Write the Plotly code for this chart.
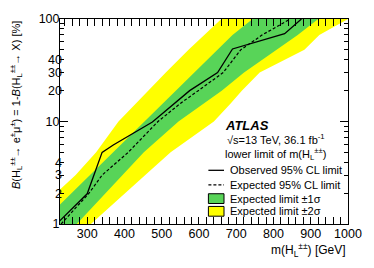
import plotly.graph_objects as go

# ---------------- data ----------------
br_levels = [1, 2, 3, 5, 10, 15, 20, 30, 50, 70, 100]          # B [%]
m_exp = [230, 305, 340, 410, 490, 550, 598, 665, 712, 770, 845]  # expected limit [GeV]
m_m1 = [174, 258, 307, 369, 453, 502, 536, 586, 649, 690, 744]   # expected -1 sigma
m_p1 = [272, 349, 395, 452, 545, 614, 661, 721, 809, 865, 920]   # expected +1 sigma
m_m2 = [135, 216, 269, 324, 384, 430, 463, 511, 572, 614, 660]   # expected -2 sigma
m_p2 = [310, 402, 456, 524, 640, 685, 715, 763, 883, 923, 1000]  # expected +2 sigma

br_obs = [1.0, 1.08, 1.97, 5.0, 5.9, 9.9, 20, 30, 51, 65, 72, 100]
m_obs = [218, 227, 300, 340, 370, 475, 575, 650, 690, 785, 830, 875]

x_ticks = [300, 400, 500, 600, 700, 800, 900, 1000]
y_major = [1, 10, 100]
y_minor = [2, 3, 4, 5, 6, 7, 8, 9, 20, 30, 40, 50, 60, 70, 80, 90]
y_extra_labels = [2, 3, 4, 20, 30, 40]

legend_labels = ["Observed 95% CL limit", "Expected 95% CL limit",
                 "Expected limit ±1σ", "Expected limit ±2σ"]

GREEN = "rgb(88,212,88)"
YELLOW = "rgb(255,255,0)"
FONT = "Liberation Sans, Arial, Helvetica, sans-serif"

fig = go.Figure()
fig.add_trace(go.Scatter(x=m_m2 + m_p2[::-1], y=br_levels + br_levels[::-1],
                         fill="toself", fillcolor=YELLOW, line=dict(width=0),
                         mode="lines", hoverinfo="skip", showlegend=False))
fig.add_trace(go.Scatter(x=m_m1 + m_p1[::-1], y=br_levels + br_levels[::-1],
                         fill="toself", fillcolor=GREEN, line=dict(width=0),
                         mode="lines", hoverinfo="skip", showlegend=False))
fig.add_trace(go.Scatter(x=m_exp, y=br_levels, mode="lines",
                         line=dict(color="black", width=1.2, dash="3px,2px"),
                         showlegend=False))
fig.add_trace(go.Scatter(x=m_obs, y=br_obs, mode="lines",
                         line=dict(color="black", width=1.3), showlegend=False))

# plot area in pixels
W, H = 374, 268
L, R, T, B = 60, 19, 14, 44
pw, ph = W - L - R, H - T - B

def px(x):
    return (x - L) / pw

def py(y):
    return (H - B - y) / ph

fig.update_layout(
    width=W, height=H,
    margin=dict(l=L, r=R, t=T, b=B),
    paper_bgcolor="white", plot_bgcolor="white",
    font=dict(family=FONT, size=12, color="black"),
    showlegend=False,
    xaxis=dict(range=[227, 1000], tickvals=x_ticks, ticks="inside", ticklen=7,
               tickcolor="black", showline=True, linecolor="black", linewidth=1,
               mirror="allticks", showgrid=False, zeroline=False,
               tickfont=dict(size=12.5), ticklabelstandoff=-2,
               minor=dict(dtick=20, tick0=0, ticks="inside", ticklen=3.5,
                          tickcolor="black", showgrid=False)),
    yaxis=dict(type="log", range=[0, 2], tickvals=y_major,
               ticktext=[str(v) for v in y_major],
               ticks="inside", ticklen=8, tickcolor="black",
               showline=True, linecolor="black", linewidth=1, mirror="allticks",
               showgrid=False, zeroline=False, tickfont=dict(size=12.5),
               ticklabelstandoff=-3,
               minor=dict(tickmode="array", tickvals=y_minor, ticks="inside",
                          ticklen=4, tickcolor="black", showgrid=False)),
    yaxis2=dict(type="log", range=[0, 2], overlaying="y", side="left",
                anchor="x", tickvals=y_extra_labels,
                ticktext=[str(v) for v in y_extra_labels], ticks="",
                showline=False, showgrid=False, zeroline=False,
                tickfont=dict(size=12.5), ticklabelstandoff=-3),
)
fig.add_trace(go.Scatter(x=[None], y=[None], yaxis="y2", showlegend=False,
                         hoverinfo="skip"))

ann = []
ann.append(dict(x=px(15), y=1.0, xref="paper", yref="paper", textangle=-90,
                xanchor="center", yanchor="top", showarrow=False,
                text="<i>B</i>(H<sub>L</sub><sup>±±</sup>→ e<sup>±</sup>μ<sup>±</sup>) = 1-<i>B</i>(H<sub>L</sub><sup>±±</sup>→ X) [%]",
                font=dict(size=11)))
ann.append(dict(x=1.0, y=py(251), xref="paper", yref="paper", xanchor="right",
                yanchor="middle", showarrow=False,
                text="m(H<sub>L</sub><sup>±±</sup>) [GeV]", font=dict(size=12)))
ann.append(dict(x=px(227), y=py(123), xref="paper", yref="paper", xanchor="left",
                yanchor="middle", showarrow=False,
                text="<b><i>ATLAS</i></b>", font=dict(size=13)))
ann.append(dict(x=px(229), y=py(137), xref="paper", yref="paper", xanchor="left",
                yanchor="middle", showarrow=False,
                text="√s=13 TeV, 36.1 fb<sup>-1</sup>", font=dict(size=11)))
ann.append(dict(x=px(227), y=py(152), xref="paper", yref="paper", xanchor="left",
                yanchor="middle", showarrow=False,
                text="lower limit of m(H<sub>L</sub><sup>±±</sup>)", font=dict(size=11)))

rows = [169, 184, 198, 211]
shapes = []
for i, (lab, yy) in enumerate(zip(legend_labels, rows)):
    ann.append(dict(x=px(232), y=py(yy), xref="paper", yref="paper",
                    xanchor="left", yanchor="middle", showarrow=False,
                    text=lab, font=dict(size=11)))
    if i == 0:
        shapes.append(dict(type="line", xref="paper", yref="paper",
                           x0=px(212), x1=px(228), y0=py(yy), y1=py(yy),
                           line=dict(color="black", width=1.3)))
    elif i == 1:
        shapes.append(dict(type="line", xref="paper", yref="paper",
                           x0=px(212), x1=px(228), y0=py(yy), y1=py(yy),
                           line=dict(color="black", width=1.2, dash="3px,2px")))
    else:
        shapes.append(dict(type="rect", xref="paper", yref="paper",
                           x0=px(212), x1=px(228), y0=py(yy + 5), y1=py(yy - 5),
                           fillcolor=GREEN if i == 2 else YELLOW,
                           line=dict(color="black", width=1)))

fig.update_layout(annotations=ann, shapes=shapes)
fig.write_html("out.html", config={"displayModeBar": False},
               post_script="document.body.style.margin='0px';document.body.style.overflow='hidden';")
